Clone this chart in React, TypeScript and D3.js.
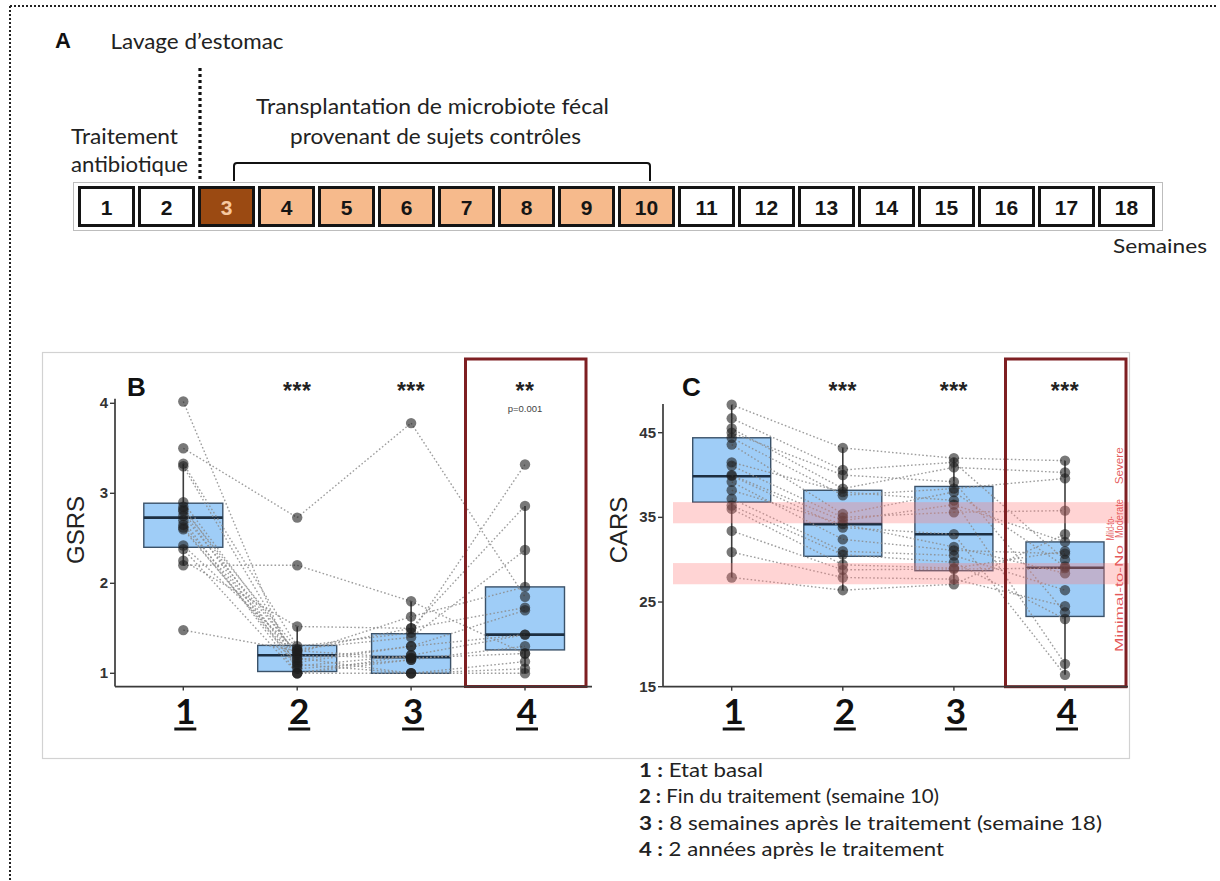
import React from 'react';
import * as d3 from 'd3';

// ---------- Timeline (panel A) ----------
const WEEKS = ['1', '2', '3', '4', '5', '6', '7', '8', '9', '10', '11', '12', '13', '14', '15', '16', '17', '18'];
const WEEK_PHASE = ['none', 'none', 'lavage', 'fmt', 'fmt', 'fmt', 'fmt', 'fmt', 'fmt', 'fmt', 'none', 'none', 'none', 'none', 'none', 'none', 'none', 'none'];
const PHASE_FILL: Record<string, string> = { none: '#ffffff', lavage: '#9b4a12', fmt: '#f6ba8c' };
const PHASE_TEXT: Record<string, string> = { none: '#151515', lavage: '#f7c9a0', fmt: '#151515' };

// ---------- Panel B : GSRS ----------
const TIMEPOINTS = [1, 2, 3, 4];
const TP_LABELS = ['1', '2', '3', '4'];
const GSRS_TICKS = [1, 2, 3, 4];
const GSRS_SUBJECTS: (number | null)[][] = [
  [4.02, 1.0, 1.0, 1.0],
  [3.5, 2.73, 3.78, 1.85],
  [3.33, 1.3, 1.45, 3.32],
  [3.3, 1.15, 1.3, 1.43],
  [2.9, 1.2, 1.17, 1.22],
  [2.85, 1.1, 1.0, 1.13],
  [2.82, 1.27, 1.4, 2.37],
  [2.8, 1.05, 1.15, 1.3],
  [2.75, 1.22, 1.63, 1.96],
  [2.7, 1.0, 1.2, 1.43],
  [2.65, 1.17, 1.0, 1.05],
  [2.6, 1.12, 1.3, 1.7],
  [2.42, 1.25, 1.5, 2.86],
  [2.38, 1.0, 1.15, null],
  [2.25, 1.52, 1.5, 1.73],
  [2.2, 2.2, 1.8, 1.22],
  [1.48, 1.25, 1.17, null],
  [2.62, 1.08, 1.2, null],
];
const GSRS_LO = [2.2, 1.0, 1.0, 1.0];
const GSRS_Q1 = [2.4, 1.02, 1.0, 1.26];
const GSRS_MED = [2.73, 1.2, 1.18, 1.43];
const GSRS_Q3 = [2.89, 1.31, 1.44, 1.96];
const GSRS_HI = [3.33, 1.52, 1.8, 2.86];
const GSRS_SIG = ['', '***', '***', '**'];
const GSRS_PVAL = ['', '', '', 'p=0.001'];

// ---------- Panel C : CARS ----------
const CARS_TICKS = [15, 25, 35, 45];
const CARS_SUBJECTS: (number | null)[][] = [
  [48.3, 43.2, 42.0, 41.7],
  [46.7, 40.6, 41.5, 30.0],
  [45.5, 38.4, 40.9, 40.3],
  [45.0, 40.0, 39.2, 23.8],
  [44.4, 37.6, 38.4, 39.6],
  [43.6, 35.4, 38.0, 29.2],
  [41.5, 38.0, 37.0, 17.7],
  [41.1, 35.0, 35.6, 35.8],
  [40.0, 34.6, 36.5, 32.1],
  [39.9, 33.8, 33.0, 16.4],
  [39.2, 32.4, 31.1, 30.7],
  [38.2, 34.2, 31.5, 28.4],
  [37.2, 31.0, 30.5, 26.4],
  [36.4, 30.6, 29.7, 23.0],
  [36.0, 29.4, 29.0, 31.0],
  [33.4, 28.8, 28.9, 29.0],
  [30.9, 27.9, 27.7, 24.5],
  [27.9, 26.4, 27.1, 33.0],
];
const CARS_LO = [27.9, 26.4, 27.1, 16.4];
const CARS_Q1 = [36.8, 30.4, 28.7, 23.3];
const CARS_MED = [39.85, 34.2, 33.0, 29.05];
const CARS_Q3 = [44.4, 38.2, 38.65, 32.1];
const CARS_HI = [48.3, 43.2, 42.0, 41.7];
const CARS_SIG = ['', '***', '***', '***'];
const CARS_BANDS: [number, number][] = [[34.3, 36.8], [27.1, 29.6]];
const CARS_BAND_LABELS = ['Severe', 'Moderate', 'Mild-to-', 'Minimal-to-No'];
const CARS_BAND_LABEL_START = [38.9, 32.55, 32.3, 19.1];
const CARS_BAND_LABEL_LEN = [37, 39, 24, 107];
const CARS_BAND_LABEL_COL = [1, 1, 0, 1];

// ---------- Legend ----------
const LEGEND_KEYS = ['1 :', '2 :', '3 :', '4 :'];
const LEGEND_TEXT = ['Etat basal', 'Fin du traitement (semaine 10)', '8 semaines après le traitement (semaine 18)', '2 années après le traitement'];
const LEGEND_LEN = [124, 300, 463, 305];

const SANS = '"Liberation Sans", Arial, sans-serif';
const CAL = 'Lato, "Open Sans", sans-serif';

type PanelCfg = {
  letter: string;
  letterX: number;
  yLabel: string;
  yLabelX: number;
  y: d3.ScaleLinear<number, number>;
  x: d3.ScalePoint<number>;
  axisMin: number;
  axisMax: number;
  yAxisX: number;
  xAxisEnd: number;
  ticks: number[];
  subjects: (number | null)[][];
  lo: number[]; q1: number[]; med: number[]; q3: number[]; hi: number[];
  sig: string[];
  pval?: string[];
  boxW: number;
  bands?: [number, number][];
};

function Panel({ c }: { c: PanelCfg }) {
  const { x, y } = c;
  const y0 = y(c.axisMin);
  const segs: { x1: number; y1: number; x2: number; y2: number }[] = [];
  c.subjects.forEach((s) => {
    for (let i = 0; i < s.length - 1; i++) {
      const a = s[i], b = s[i + 1];
      if (a != null && b != null) segs.push({ x1: x(TIMEPOINTS[i])!, y1: y(a), x2: x(TIMEPOINTS[i + 1])!, y2: y(b) });
    }
  });
  const g4 = x(4)!;
  return (
    <g>
      {/* whiskers and boxes */}
      {TIMEPOINTS.map((t, i) => (
        <g key={'b' + t}>
          <line x1={x(t)} x2={x(t)} y1={y(c.lo[i])} y2={y(c.hi[i])} stroke="#3d3d3d" strokeWidth={1.6} />
          <rect x={x(t)! - c.boxW / 2} width={c.boxW} y={y(c.q3[i])} height={y(c.q1[i]) - y(c.q3[i])}
            fill="#9fcdf7" stroke="#3b5269" strokeWidth={1.4} />
          <line x1={x(t)! - c.boxW / 2} x2={x(t)! + c.boxW / 2} y1={y(c.med[i])} y2={y(c.med[i])} stroke="#1d2f42" strokeWidth={2.6} />
        </g>
      ))}
      {/* subject lines */}
      {segs.map((s, i) => (
        <line key={'s' + i} {...s} stroke="#8c8c8c" strokeOpacity={0.85} strokeWidth={1.4} strokeDasharray="1.6,2.2" />
      ))}
      {/* points */}
      {c.subjects.map((s, si) => s.map((v, ti) => v == null ? null : (
        <circle key={'p' + si + '-' + ti} cx={x(TIMEPOINTS[ti])} cy={y(v)} r={5.2} fill="#1e1e1e" fillOpacity={0.6} />
      )))}
      {/* severity bands */}
      {c.bands && c.bands.map((b, i) => (
        <rect key={'band' + i} x={c.yAxisX + 10} width={1129 - c.yAxisX - 10} y={y(b[1])} height={y(b[0]) - y(b[1])}
          fill="#ff7d7d" fillOpacity={0.33} />
      ))}
      {c.bands && CARS_BAND_LABELS.map((lab, i) => {
        const lx = CARS_BAND_LABEL_COL[i] === 1 ? 1122.5 : 1113.5;
        const ly = y(CARS_BAND_LABEL_START[i]);
        return (
          <text key={'bl' + i} transform={`translate(${lx},${ly}) rotate(-90)`} fontFamily={SANS} fontSize={11.5}
            fill="#e03a3c" fillOpacity={0.85} textLength={CARS_BAND_LABEL_LEN[i]} lengthAdjust="spacingAndGlyphs">{lab}</text>
        );
      })}
      {/* highlight rectangle */}
      <rect x={g4 - 59.5} width={120.5} y={359} height={y0 - 359} fill="none" stroke="#7e1f22" strokeWidth={3} />
      {/* axes */}
      <line x1={c.yAxisX} x2={c.yAxisX} y1={y(c.axisMax)} y2={y0} stroke="#3a3a3a" strokeWidth={1.7} />
      <line x1={c.yAxisX} x2={c.xAxisEnd} y1={y0} y2={y0} stroke="#3a3a3a" strokeWidth={1.7} />
      {c.ticks.map((t) => (
        <g key={'t' + t}>
          <line x1={c.yAxisX - 5} x2={c.yAxisX} y1={y(t)} y2={y(t)} stroke="#3a3a3a" strokeWidth={1.4} />
          <text x={c.yAxisX - 7} y={y(t) + 5} textAnchor="end" fontFamily={SANS} fontWeight="bold" fontSize={15} fill="#333">{t}</text>
        </g>
      ))}
      {TIMEPOINTS.map((t) => (
        <line key={'xt' + t} x1={x(t)} x2={x(t)} y1={y0} y2={y0 + 4} stroke="#3a3a3a" strokeWidth={1.4} />
      ))}
      <text transform={`translate(${c.yLabelX},530) rotate(-90)`} textAnchor="middle" fontFamily={SANS} fontSize={24} fill="#222">{c.yLabel}</text>
      <text x={c.letterX} y={396} fontFamily={SANS} fontWeight="bold" fontSize={26} fill="#111">{c.letter}</text>
      {/* significance */}
      {TIMEPOINTS.map((t, i) => (
        <g key={'sig' + t}>
          <text x={x(t)} y={399} textAnchor="middle" fontFamily={SANS} fontWeight="bold" fontSize={23} letterSpacing={0.5} fill="#222">{c.sig[i]}</text>
          {c.pval && c.pval[i] && (
            <text x={x(t)} y={412} textAnchor="middle" fontFamily={SANS} fontSize={9.5} fill="#444">{c.pval[i]}</text>
          )}
        </g>
      ))}
      {/* big numbered categories */}
      {TIMEPOINTS.map((t, i) => (
        <g key={'n' + t}>
          <text x={x(t)! + 2} y={724} textAnchor="middle" fontFamily={CAL} fontWeight="bold" fontSize={35} fill="#111">{TP_LABELS[i]}</text>
          <line x1={x(t)! - 9} x2={x(t)! + 13} y1={729} y2={729} stroke="#111" strokeWidth={3} />
        </g>
      ))}
    </g>
  );
}

export default function App() {
  const xWeek = d3.scaleBand<string>().domain(WEEKS).range([79.5, 1153.5]).paddingInner(0.1).paddingOuter(0);

  const yB = d3.scaleLinear().domain([1, 4]).range([673.3, 403.3]);
  const xB = d3.scalePoint<number>().domain(TIMEPOINTS).range([183.3, 525]);
  const yC = d3.scaleLinear().domain([15, 45]).range([686.7, 432.7]);
  const xC = d3.scalePoint<number>().domain(TIMEPOINTS).range([731.7, 1065]);

  const cfgB: PanelCfg = {
    letter: 'B', letterX: 127, yLabel: 'GSRS', yLabelX: 84, y: yB, x: xB, axisMin: 0.853, axisMax: 4.05,
    yAxisX: 115, xAxisEnd: 592, ticks: GSRS_TICKS, subjects: GSRS_SUBJECTS,
    lo: GSRS_LO, q1: GSRS_Q1, med: GSRS_MED, q3: GSRS_Q3, hi: GSRS_HI, sig: GSRS_SIG, pval: GSRS_PVAL, boxW: 79,
  };
  const cfgC: PanelCfg = {
    letter: 'C', letterX: 682, yLabel: 'CARS', yLabelX: 627, y: yC, x: xC, axisMin: 15, axisMax: 48.4,
    yAxisX: 663, xAxisEnd: 1128, ticks: CARS_TICKS, subjects: CARS_SUBJECTS,
    lo: CARS_LO, q1: CARS_Q1, med: CARS_MED, q3: CARS_Q3, hi: CARS_HI, sig: CARS_SIG, boxW: 78, bands: CARS_BANDS,
  };

  return (
    <svg width={1220} height={881} style={{ position: 'absolute', left: 0, top: 0, background: '#fff' }}>
      <rect x={0} y={0} width={1220} height={881} fill="#fff" />
      {/* outer dotted border */}
      <line x1={10} x2={1218} y1={6} y2={6} stroke="#222" strokeWidth={2} strokeDasharray="2,2" />
      <line x1={10} x2={10} y1={6} y2={881} stroke="#222" strokeWidth={2} strokeDasharray="2,2" />

      {/* ---- Panel A ---- */}
      <text x={55} y={48} fontFamily={SANS} fontWeight="bold" fontSize={22} fill="#111">A</text>
      <text x={110.5} y={49} fontFamily={CAL} fontSize={21} fill="#222" textLength={173} lengthAdjust="spacingAndGlyphs">Lavage d’estomac</text>
      <line x1={200} x2={200} y1={68} y2={190} stroke="#111" strokeWidth={3.2} strokeDasharray="3,3" />
      <text x={71} y={144} fontFamily={CAL} fontSize={21} fill="#222" textLength={107} lengthAdjust="spacingAndGlyphs">Traitement</text>
      <text x={71} y={172} fontFamily={CAL} fontSize={21} fill="#222" textLength={117} lengthAdjust="spacingAndGlyphs">antibiotique</text>
      <text x={256} y={114} fontFamily={CAL} fontSize={21} fill="#222" textLength={353} lengthAdjust="spacingAndGlyphs">Transplantation de microbiote fécal</text>
      <text x={290} y={144} fontFamily={CAL} fontSize={21} fill="#222" textLength={291} lengthAdjust="spacingAndGlyphs">provenant de sujets contrôles</text>
      <path d="M234,181 L234,166 Q234,163 237,163 L647,163 Q650,163 650,166 L650,181" fill="none" stroke="#111" strokeWidth={2} />

      <rect x={73.5} y={182.5} width={1089} height={48} fill="#fff" stroke="#bdbdbd" strokeWidth={1} />
      {WEEKS.map((w, i) => (
        <g key={w}>
          <rect x={xWeek(w)} y={187.5} width={xWeek.bandwidth()} height={38} fill={PHASE_FILL[WEEK_PHASE[i]]} stroke="#141414" strokeWidth={3} />
          <text x={xWeek(w)! + xWeek.bandwidth() / 2} y={214.5} textAnchor="middle" fontFamily={SANS} fontWeight="bold" fontSize={21}
            fill={PHASE_TEXT[WEEK_PHASE[i]]}>{w}</text>
        </g>
      ))}
      <text x={1113} y={253} fontFamily={CAL} fontSize={20} fill="#222" textLength={94} lengthAdjust="spacingAndGlyphs">Semaines</text>

      {/* ---- Panels B & C frame ---- */}
      <rect x={42.5} y={352.5} width={1087} height={406} fill="#fff" stroke="#d2d2d2" strokeWidth={1.2} />
      <Panel c={cfgB} />
      <Panel c={cfgC} />

      {/* ---- Legend ---- */}
      {LEGEND_KEYS.map((k, i) => (
        <text key={k} x={639} y={777 + i * 26.3} fontFamily={CAL} fontSize={19} fill="#222" textLength={LEGEND_LEN[i]} lengthAdjust="spacingAndGlyphs">
          <tspan fontWeight="bold">{k}</tspan> {LEGEND_TEXT[i]}
        </text>
      ))}
    </svg>
  );
}
